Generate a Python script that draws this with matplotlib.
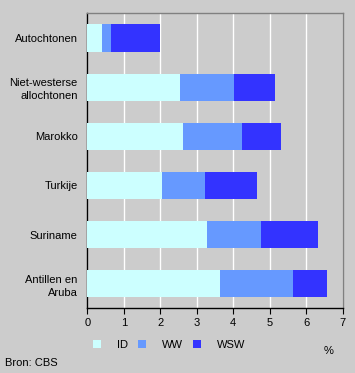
import matplotlib

matplotlib.use("Agg")
import matplotlib.pyplot as plt
import numpy as np
from matplotlib.patches import Patch

categories = [
    "Autochtonen",
    "Niet-westerse\nallochtonen",
    "Marokko",
    "Turkije",
    "Suriname",
    "Antillen en\nAruba",
]
series_names = ["ID", "WW", "WSW"]
id_values = [0.40, 2.54, 2.62, 2.05, 3.28, 3.64]
ww_values = [0.25, 1.48, 1.62, 1.18, 1.48, 2.00]
wsw_values = [1.34, 1.13, 1.07, 1.41, 1.57, 0.93]
x_ticks = [0, 1, 2, 3, 4, 5, 6, 7]

colors = ["#ccffff", "#6699ff", "#3333ff"]
bg = "#cccccc"

plt.rcParams["font.family"] = ["Liberation Sans", "DejaVu Sans"]
plt.rcParams["font.size"] = 8

fig = plt.figure(figsize=(3.55, 3.73), dpi=100, facecolor=bg)
ax = fig.add_axes([0.246, 0.1735, 0.719, 0.7905], facecolor=bg)

y = np.arange(len(categories))
left = np.zeros(len(categories))
for name, values, color in zip(series_names, [id_values, ww_values, wsw_values], colors):
    ax.barh(y, values, left=left, height=0.55, color=color, label=name, zorder=3)
    left += np.array(values)

ax.set_xlim(0, 7)
ax.set_ylim(5.5, -0.5)
ax.set_xticks(x_ticks)
ax.set_yticks(y)
ax.set_yticklabels(categories, linespacing=1.35)
ax.tick_params(axis="y", length=0, pad=7)
ax.tick_params(axis="x", length=4, direction="out", color="black", pad=3)
ax.grid(True, axis="x", color="white", linewidth=1.0, zorder=1)
ax.spines["left"].set_color("black")
ax.spines["bottom"].set_color("black")
ax.spines["top"].set_color("#808080")
ax.spines["right"].set_color("#808080")
for s in ax.spines.values():
    s.set_linewidth(1.0)

handles = [Patch(facecolor=c, edgecolor="none") for c in colors]
fig.legend(handles, series_names, loc="center left", bbox_to_anchor=(0.262, 0.075),
           ncol=3, frameon=False, handlelength=0.75, handleheight=0.75,
           handletextpad=1.4, columnspacing=0.9, borderpad=0, borderaxespad=0)

fig.text(0.925, 0.06, "%", ha="center", va="center")
fig.text(0.014, 0.028, "Bron: CBS", ha="left", va="center")

fig.savefig("out.png", dpi=100, facecolor=bg)
